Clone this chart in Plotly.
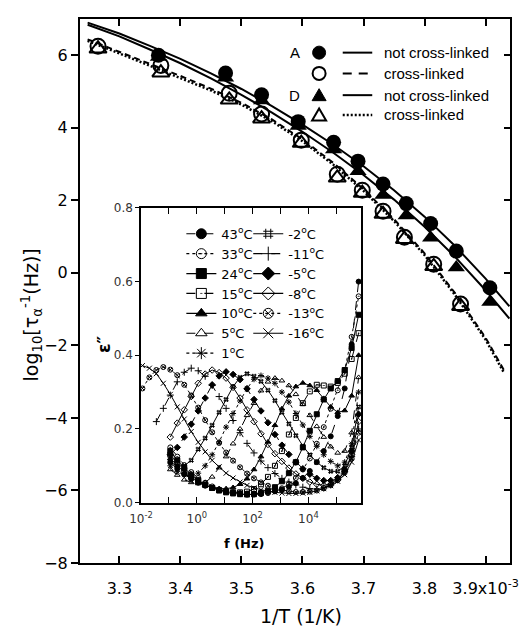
import plotly.graph_objects as go

# ---------------- main panel data (1/T in units of 1e-3 1/K) ----------------
invT_filled = [3.364, 3.474, 3.533, 3.593, 3.651, 3.691, 3.732, 3.770, 3.810, 3.852, 3.907]
rate_A_notcl = [6.00, 5.51, 4.91, 4.17, 3.60, 3.08, 2.45, 1.91, 1.36, 0.60, -0.41]
rate_D_notcl = [5.95, 5.38, 4.75, 4.05, 3.40, 2.80, 2.15, 1.58, 0.97, 0.15, -0.80]

invT_open = [3.265, 3.368, 3.480, 3.533, 3.598, 3.657, 3.698, 3.732, 3.767, 3.815, 3.859]
rate_A_cl = [6.25, 5.72, 4.95, 4.38, 3.66, 2.72, 2.28, 1.70, 0.98, 0.24, -0.86]
rate_D_cl = [6.18, 5.52, 4.77, 4.25, 3.58, 2.62, 2.20, 1.62, 0.93, 0.18, -0.92]

fit_x_upper = [3.248, 3.30, 3.35, 3.40, 3.45, 3.50, 3.55, 3.60, 3.65, 3.70, 3.75, 3.80, 3.85, 3.90, 3.939]
fit_A_notcl = [6.90, 6.60, 6.26, 5.90, 5.50, 5.07, 4.60, 4.09, 3.54, 2.94, 2.28, 1.55, 0.74, -0.16, -0.92]
fit_D_notcl = [6.84, 6.52, 6.16, 5.78, 5.36, 4.91, 4.42, 3.89, 3.32, 2.70, 2.02, 1.27, 0.44, -0.48, -1.26]
fit_x_lower = [3.248, 3.30, 3.35, 3.40, 3.45, 3.50, 3.55, 3.60, 3.65, 3.70, 3.75, 3.80, 3.85, 3.90, 3.93]
fit_A_cl = [6.44, 6.10, 5.77, 5.43, 5.08, 4.69, 4.23, 3.68, 3.04, 2.31, 1.48, 0.54, -0.56, -1.79, -2.68]
fit_D_cl = [6.40, 6.04, 5.71, 5.37, 5.03, 4.64, 4.18, 3.63, 2.99, 2.26, 1.43, 0.49, -0.61, -1.84, -2.75]

x_tick_vals = [3.3, 3.4, 3.5, 3.6, 3.7, 3.8, 3.9]
x_tick_text = ["3.3", "3.4", "3.5", "3.6", "3.7", "3.8", "3.9x10<sup>-3</sup>"]
y_tick_vals = [-8, -6, -4, -2, 0, 2, 4, 6]

# ---------------- inset data: eps'' vs log10 f ----------------
log_f = [-1.95, -1.70, -1.45, -1.20, -0.95, -0.70, -0.45, -0.20, 0.05, 0.30, 0.55, 0.80,
         1.05, 1.30, 1.55, 1.80, 2.05, 2.30, 2.55, 2.80, 3.05, 3.30, 3.55, 3.80,
         4.05, 4.30, 4.55, 4.80, 5.05, 5.30, 5.55, 5.80]
N = None
eps_43 = [N, N, N, N, 0.110, 0.092, 0.077, 0.064, 0.054, 0.046, 0.040, 0.035, 0.031, 0.028, 0.026, 0.025,
          0.025, 0.026, 0.028, 0.031, 0.036, 0.043, 0.053, 0.067, 0.086, 0.110, 0.140, 0.180, 0.235, 0.310, 0.430, 0.600]
eps_33 = [N, N, N, N, 0.150, 0.125, 0.102, 0.083, 0.067, 0.054, 0.044, 0.036, 0.030, 0.026, 0.023, 0.022,
          0.022, 0.023, 0.026, 0.031, 0.039, 0.050, 0.067, 0.090, 0.120, 0.160, 0.205, 0.255, 0.305, 0.360, 0.450, 0.560]
eps_24 = [N, N, N, N, 0.140, 0.115, 0.094, 0.076, 0.061, 0.049, 0.040, 0.033, 0.028, 0.025, 0.023, 0.022,
          0.023, 0.026, 0.032, 0.042, 0.058, 0.080, 0.110, 0.150, 0.195, 0.240, 0.280, 0.310, 0.330, 0.360, 0.420, 0.510]
eps_15 = [N, N, N, N, 0.130, 0.108, 0.088, 0.072, 0.059, 0.048, 0.040, 0.034, 0.030, 0.028, 0.028, 0.030,
          0.037, 0.050, 0.070, 0.100, 0.140, 0.185, 0.230, 0.270, 0.302, 0.320, 0.318, 0.315, 0.325, 0.350, 0.390, 0.460]
eps_10 = [N, N, N, N, 0.120, 0.100, 0.082, 0.068, 0.056, 0.047, 0.041, 0.038, 0.038, 0.041, 0.050, 0.065,
          0.090, 0.125, 0.165, 0.210, 0.255, 0.290, 0.315, 0.325, 0.318, 0.305, 0.283, 0.260, 0.245, 0.250, 0.290, 0.400]
eps_5 = [N, N, N, N, 0.090, 0.075, 0.062, 0.055, 0.052, 0.055, 0.070, 0.095, 0.125, 0.160, 0.200, 0.237,
         0.270, 0.304, 0.328, 0.338, 0.331, 0.318, 0.294, 0.267, 0.237, 0.207, 0.178, 0.152, 0.135, 0.140, 0.190, 0.340]
eps_1 = [N, N, N, N, 0.100, 0.085, 0.075, 0.072, 0.080, 0.100, 0.130, 0.165, 0.205, 0.242, 0.276, 0.310,
         0.335, 0.345, 0.338, 0.324, 0.300, 0.273, 0.242, 0.211, 0.180, 0.153, 0.130, 0.112, 0.100, 0.110, 0.160, 0.300]
eps_m2 = [N, N, N, N, 0.110, 0.100, 0.100, 0.115, 0.145, 0.175, 0.210, 0.245, 0.280, 0.315, 0.340, 0.350,
          0.343, 0.329, 0.305, 0.277, 0.245, 0.214, 0.182, 0.154, 0.130, 0.110, 0.095, 0.085, 0.085, 0.100, 0.150, 0.260]
eps_m5 = [N, N, N, N, 0.130, 0.150, 0.178, 0.213, 0.249, 0.284, 0.320, 0.344, 0.355, 0.348, 0.334, 0.309,
          0.280, 0.249, 0.217, 0.185, 0.156, 0.131, 0.110, 0.092, 0.077, 0.066, 0.060, 0.060, 0.068, 0.090, 0.140, 0.240]
eps_m8 = [N, N, N, N, 0.178, 0.216, 0.252, 0.288, 0.324, 0.349, 0.360, 0.353, 0.338, 0.313, 0.284, 0.252,
          0.220, 0.187, 0.158, 0.133, 0.112, 0.094, 0.078, 0.066, 0.056, 0.050, 0.047, 0.050, 0.062, 0.086, 0.130, 0.220]
eps_m11 = [N, N, 0.220, 0.256, 0.292, 0.328, 0.354, 0.365, 0.358, 0.343, 0.318, 0.288, 0.256, 0.223, 0.190, 0.161,
           0.135, 0.113, 0.095, 0.079, 0.066, 0.056, 0.048, 0.042, 0.038, 0.037, 0.040, 0.048, 0.062, 0.084, 0.125, 0.200]
eps_m13 = [0.310, 0.340, 0.360, 0.368, 0.361, 0.346, 0.320, 0.291, 0.258, 0.224, 0.191, 0.162, 0.136, 0.114, 0.096, 0.079,
           0.066, 0.055, 0.046, 0.039, 0.034, 0.031, 0.029, 0.029, 0.030, 0.033, 0.039, 0.048, 0.062, 0.082, 0.120, 0.190]
eps_m16 = [0.372, 0.365, 0.350, 0.324, 0.294, 0.260, 0.227, 0.193, 0.164, 0.138, 0.115, 0.097, 0.080, 0.067, 0.056, 0.047,
           0.040, 0.035, 0.031, 0.028, 0.026, 0.025, 0.025, 0.026, 0.028, 0.032, 0.038, 0.046, 0.058, 0.076, 0.110, 0.170]

temps_col1 = ["43", "33", "24", "15", "10", "5", "1"]
temps_col2 = ["-2", "-11", "-5", "-8", "-13", "-16"]
series_col1 = [eps_43, eps_33, eps_24, eps_15, eps_10, eps_5, eps_1]
series_col2 = [eps_m2, eps_m11, eps_m5, eps_m8, eps_m13, eps_m16]
symbols_col1 = ["circle", "circle-open-dot", "square", "square-open-dot", "triangle-up", "triangle-up-open", "asterisk-open"]
dashes_col1 = ["dash", "dot", "solid", "dash", "solid", "dash", "dot"]
symbols_col2 = ["hash-open", "cross-thin-open", "diamond", "diamond-open", "circle-x-open", "x-thin-open"]
dashes_col2 = ["solid", "dash", "dash", "solid", "dot", "solid"]

inset_major_ticks = [0.01, 1, 100, 1e4]
inset_major_text = ["10<sup>-2</sup>", "10<sup>0</sup>", "10<sup>2</sup>", "10<sup>4</sup>"]
inset_minor_ticks = [0.1, 10, 1000, 1e5]

freq_hz = [10 ** v for v in log_f]

fig = go.Figure()

# ----- main panel fits -----
fig.add_trace(go.Scatter(x=fit_x_upper, y=fit_A_notcl, mode="lines", line=dict(color="black", width=2), showlegend=False))
fig.add_trace(go.Scatter(x=fit_x_upper, y=fit_D_notcl, mode="lines", line=dict(color="black", width=2), showlegend=False))
fig.add_trace(go.Scatter(x=fit_x_lower, y=fit_A_cl, mode="lines", line=dict(color="black", width=2, dash="6px,4px"), showlegend=False))
fig.add_trace(go.Scatter(x=fit_x_lower, y=fit_D_cl, mode="lines", line=dict(color="black", width=2.5, dash="2px,2px"), showlegend=False))

# ----- main panel markers -----
fig.add_trace(go.Scatter(x=invT_filled, y=rate_A_notcl, mode="markers",
                         marker=dict(symbol="circle", size=15, color="black"), showlegend=False))
fig.add_trace(go.Scatter(x=invT_filled, y=rate_D_notcl, mode="markers",
                         marker=dict(symbol="triangle-up", size=15, color="black"), showlegend=False))
fig.add_trace(go.Scatter(x=invT_open, y=rate_A_cl, mode="markers",
                         marker=dict(symbol="circle-open", size=15, color="black", line=dict(width=2)), showlegend=False))
fig.add_trace(go.Scatter(x=invT_open, y=rate_D_cl, mode="markers",
                         marker=dict(symbol="triangle-up-open", size=15, color="black", line=dict(width=2)), showlegend=False))

# helper trace so right-side ticks axis is drawn
fig.add_trace(go.Scatter(x=fit_x_upper, y=fit_A_notcl, yaxis="y2", mode="lines",
                         line=dict(width=0, color="rgba(0,0,0,0)"), showlegend=False, hoverinfo="skip"))

# ----- inset curves -----
for temps, series, syms, dashes, lg in [(temps_col1, series_col1, symbols_col1, dashes_col1, "legend"),
                                        (temps_col2, series_col2, symbols_col2, dashes_col2, "legend2")]:
    for t, eps, sym, dash in zip(temps, series, syms, dashes):
        fig.add_trace(go.Scatter(x=freq_hz, y=eps, xaxis="x3", yaxis="y3", mode="lines+markers",
                                 line=dict(color="black", width=1, dash=dash),
                                 marker=dict(symbol=sym, size=5, color="black", line=dict(width=1, color="black")),
                                 showlegend=False, connectgaps=False))
        # legend entry (no data)
        fig.add_trace(go.Scatter(x=[None], y=[None], xaxis="x3", yaxis="y3", mode="lines+markers",
                                 name=f"{t}<sup>o</sup>C", legend=lg,
                                 line=dict(color="black", width=1.2, dash=dash),
                                 marker=dict(symbol=sym, size=10, color="black", line=dict(width=1, color="black"))))

# ----- layout -----
W, H = 530, 633
ml, mr, mt, mb = 80, 13, 13, 70
pw, ph = W - ml - mr, H - mt - mb


def px2paper(px, py):
    return (px - ml) / pw, (H - mb - py) / ph


ix0, iy1 = px2paper(142, 204)
ix1, iy0 = px2paper(366, 502)

axis_common = dict(showgrid=False, zeroline=False, linecolor="black", tickcolor="black", showline=True)

fig.update_layout(
    width=W, height=H, margin=dict(l=ml, r=mr, t=mt, b=mb),
    paper_bgcolor="white", plot_bgcolor="white",
    font=dict(family="DejaVu Sans", color="black"),
    xaxis=dict(range=[3.2355, 3.940], tickvals=x_tick_vals, ticktext=x_tick_text,
               ticks="inside", ticklen=7, tickwidth=1.5, linewidth=2, mirror="ticks",
               tickfont=dict(size=16), ticklabelstandoff=10, **axis_common),
    yaxis=dict(range=[-8, 7], tickvals=y_tick_vals, ticks="outside", ticklen=7, tickwidth=1.5,
               linewidth=2, mirror=True, tickfont=dict(size=16), **axis_common),
    yaxis2=dict(range=[-8, 7], overlaying="y", side="right", tickvals=y_tick_vals, ticks="inside",
                ticklen=6, tickwidth=1.5, showticklabels=False, showgrid=False, zeroline=False,
                showline=False, tickcolor="black"),
    xaxis3=dict(domain=[ix0, ix1], anchor="y3", type="log", range=[-2, 5.9],
                tickvals=inset_major_ticks, ticktext=inset_major_text,
                ticks="inside", ticklen=6, tickwidth=1.2, linewidth=1.5, mirror="ticks",
                minor=dict(tickvals=inset_minor_ticks, ticks="inside", ticklen=6, tickwidth=1.2, tickcolor="black"),
                tickfont=dict(size=12, color="#333"), ticklabelstandoff=4, **axis_common),
    yaxis3=dict(domain=[iy0, iy1], anchor="x3", range=[0, 0.8], tickvals=[0, 0.2, 0.4, 0.6, 0.8],
                tickformat=".1f", ticks="outside", ticklen=4, tickwidth=1.2, linewidth=1.5, mirror=True,
                tickfont=dict(size=12, color="#333"), **axis_common),
    legend=dict(x=px2paper(183, 0)[0], y=px2paper(0, 215)[1], xanchor="left", yanchor="top",
                bgcolor="rgba(0,0,0,0)", font=dict(size=13, family="DejaVu Sans"), itemwidth=30,
                tracegroupgap=0),
    legend2=dict(x=px2paper(251, 0)[0], y=px2paper(0, 215)[1], xanchor="left", yanchor="top",
                 bgcolor="rgba(0,0,0,0)", font=dict(size=13, family="DejaVu Sans"), itemwidth=30,
                 tracegroupgap=0),
)

annotations = []
shapes = []

# axis titles
tx, ty = px2paper(305, 617)
annotations.append(dict(text="1/T (1/K)", x=tx, y=ty, xref="paper", yref="paper", showarrow=False,
                        font=dict(size=19), xanchor="center", yanchor="middle"))
tx, ty = px2paper(31, 312)
annotations.append(dict(text="log<sub>10</sub>[τ<sub>α</sub><sup>-1</sup>(Hz)]", x=tx, y=ty, xref="paper",
                        yref="paper", showarrow=False, textangle=-90, font=dict(size=19),
                        xanchor="center", yanchor="middle"))
tx, ty = px2paper(247, 543)
annotations.append(dict(text="<b>f (Hz)</b>", x=tx, y=ty, xref="paper", yref="paper", showarrow=False,
                        font=dict(size=13), xanchor="center", yanchor="middle"))
tx, ty = px2paper(105, 342)
annotations.append(dict(text="<b>ε\u2033</b>", x=tx, y=ty, xref="paper", yref="paper", showarrow=False,
                        textangle=-90, font=dict(size=17), xanchor="center", yanchor="middle"))

# main legend (custom)
legend_rows = [("A", "circle-fill", "solid", "not cross-linked", 47),
               ("", "circle-open", "dash", "cross-linked", 68),
               ("D", "tri-fill", "solid", "not cross-linked", 90),
               ("", "tri-open", "dot", "cross-linked", 110)]
for lab, sym, dash, txt, py in legend_rows:
    if lab:
        x, y = px2paper(298, py)
        annotations.append(dict(text=lab, x=x, y=y, xref="paper", yref="paper", showarrow=False,
                                font=dict(size=15, family="Liberation Sans"), xanchor="center", yanchor="middle"))
    x, y = px2paper(387, py)
    annotations.append(dict(text=txt, x=x, y=y, xref="paper", yref="paper", showarrow=False,
                            font=dict(size=15, family="Liberation Sans"), xanchor="left", yanchor="middle"))
    mx, my = px2paper(323, py)
    filled = sym.endswith("fill")
    style = dict(xref="paper", yref="paper", xsizemode="pixel", ysizemode="pixel", xanchor=mx, yanchor=my,
                 fillcolor="black" if filled else "white", line=dict(color="black", width=1 if filled else 2))
    if sym.startswith("circle"):
        shapes.append(dict(type="circle", x0=-6.5, x1=6.5, y0=-6.5, y1=6.5, **style))
    else:
        shapes.append(dict(type="path", path="M -7 -5.5 L 7 -5.5 L 0 6.5 Z", **style))
    x0, y0 = px2paper(347, py)
    x1, _ = px2paper(377, py)
    dash_map = {"solid": "solid", "dash": "9px,7px", "dot": "2px,2px"}
    shapes.append(dict(type="line", xref="paper", yref="paper", x0=x0, x1=x1, y0=y0, y1=y0,
                       line=dict(color="black", width=2.5 if dash == "dot" else 2, dash=dash_map[dash])))

fig.update_layout(annotations=annotations, shapes=shapes)

fig.write_html("out.html")
